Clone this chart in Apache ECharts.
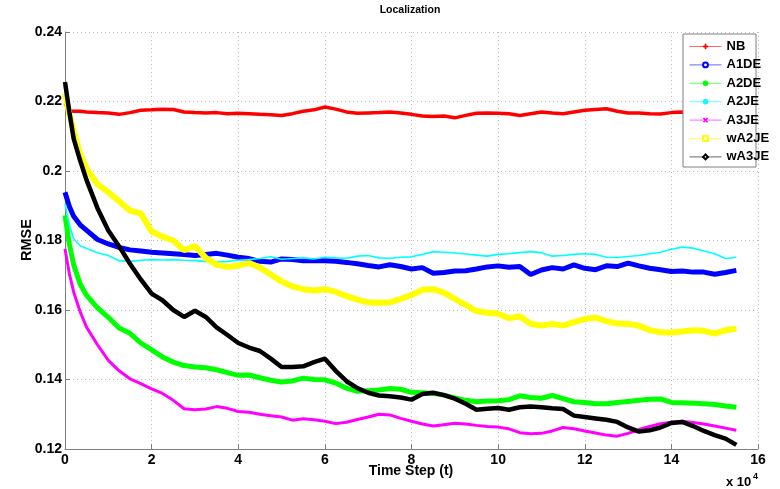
<!DOCTYPE html>
<html><head><meta charset="utf-8">
<script src="https://cdn.jsdelivr.net/npm/echarts@6/dist/echarts.min.js"></script>
<style>html,body{margin:0;padding:0;background:#fff}#c{width:780px;height:489px}</style>
</head><body><div id="c"></div>
<script>
// time steps (x 10^4)
const timeSteps = [0, 0.1, 0.2, 0.35, 0.5, 0.75, 1, 1.25, 1.5, 1.75,
  2, 2.25, 2.5, 2.75, 3, 3.25, 3.5, 3.75, 4, 4.25, 4.5, 4.75, 5, 5.25, 5.5, 5.75,
  6, 6.25, 6.5, 6.75, 7, 7.25, 7.5, 7.75, 8, 8.25, 8.5, 8.75, 9, 9.25, 9.5, 9.75,
  10, 10.25, 10.5, 10.75, 11, 11.25, 11.5, 11.75, 12, 12.25, 12.5, 12.75, 13, 13.25, 13.5, 13.75,
  14, 14.25, 14.5, 14.75, 15, 15.25, 15.5];

const NB = [0.2195, 0.2173, 0.2172, 0.2172, 0.2170, 0.2168, 0.2167, 0.2163, 0.2168, 0.2175,
  0.2176, 0.2178, 0.2177, 0.2170, 0.2168, 0.2167, 0.2168, 0.2165, 0.2166, 0.2165, 0.2163, 0.2162, 0.2160, 0.2165, 0.2172, 0.2176,
  0.2184, 0.2178, 0.2170, 0.2166, 0.2167, 0.2168, 0.2170, 0.2167, 0.2163, 0.2158, 0.2157, 0.2158, 0.2153, 0.2160, 0.2166, 0.2167,
  0.2166, 0.2165, 0.2160, 0.2165, 0.2170, 0.2167, 0.2165, 0.2170, 0.2175, 0.2177, 0.2179, 0.2172, 0.2167, 0.2167, 0.2165, 0.2164,
  0.2168, 0.2170, 0.2168, 0.2167, 0.2166, 0.2167, 0.2168];

const A1DE = [0.1939, 0.1898, 0.1870, 0.1845, 0.1829, 0.1803, 0.1790, 0.1780, 0.1773, 0.1770,
  0.1766, 0.1764, 0.1762, 0.1760, 0.1757, 0.1760, 0.1763, 0.1758, 0.1752, 0.1748, 0.1740, 0.1738, 0.1747, 0.1745, 0.1742, 0.1742,
  0.1742, 0.1740, 0.1737, 0.1733, 0.1728, 0.1724, 0.1730, 0.1725, 0.1718, 0.1722, 0.1706, 0.1708, 0.1712, 0.1713, 0.1718, 0.1724,
  0.1727, 0.1723, 0.1725, 0.1702, 0.1715, 0.1722, 0.1718, 0.1730, 0.1720, 0.1716, 0.1727, 0.1725, 0.1735, 0.1727, 0.1720, 0.1716,
  0.1711, 0.1712, 0.1709, 0.1709, 0.1703, 0.1708, 0.1714];

const A2DE = [0.1872, 0.1790, 0.1730, 0.1675, 0.1642, 0.1606, 0.1579, 0.1548, 0.1533, 0.1505,
  0.1485, 0.1465, 0.1450, 0.1440, 0.1436, 0.1434, 0.1428, 0.1420, 0.1412, 0.1413, 0.1405, 0.1398, 0.1393, 0.1396, 0.1404, 0.1400,
  0.1399, 0.1390, 0.1375, 0.1366, 0.1368, 0.1370, 0.1374, 0.1372, 0.1363, 0.1362, 0.1360, 0.1355, 0.1347, 0.1340, 0.1336, 0.1338,
  0.1339, 0.1342, 0.1353, 0.1348, 0.1346, 0.1354, 0.1345, 0.1336, 0.1334, 0.1330, 0.1330, 0.1334, 0.1337, 0.1340, 0.1343, 0.1344,
  0.1334, 0.1333, 0.1332, 0.1330, 0.1328, 0.1324, 0.1320];

const A2JE = [0.1906, 0.1845, 0.1805, 0.1785, 0.1777, 0.1765, 0.1757, 0.1742, 0.1740, 0.1743,
  0.1745, 0.1744, 0.1745, 0.1743, 0.1742, 0.1740, 0.1738, 0.1740, 0.1743, 0.1745, 0.1748, 0.1753, 0.1746, 0.1748, 0.1750, 0.1747,
  0.1752, 0.1750, 0.1749, 0.1755, 0.1757, 0.1750, 0.1749, 0.1752, 0.1753, 0.1760, 0.1768, 0.1766, 0.1764, 0.1761, 0.1758, 0.1755,
  0.1760, 0.1762, 0.1765, 0.1768, 0.1765, 0.1755, 0.1757, 0.1760, 0.1762, 0.1760, 0.1752, 0.1751, 0.1754, 0.1757, 0.1762, 0.1766,
  0.1775, 0.1781, 0.1778, 0.1770, 0.1762, 0.1748, 0.1752];

const A3JE = [0.1776, 0.1705, 0.1652, 0.1595, 0.1550, 0.1500, 0.1455, 0.1425, 0.1402, 0.1388,
  0.1373, 0.1360, 0.1340, 0.1316, 0.1313, 0.1315, 0.1322, 0.1317, 0.1308, 0.1306, 0.1300, 0.1296, 0.1292, 0.1283, 0.1287, 0.1284,
  0.1280, 0.1273, 0.1277, 0.1285, 0.1292, 0.1300, 0.1298, 0.1288, 0.1280, 0.1272, 0.1266, 0.1270, 0.1274, 0.1272, 0.1268, 0.1265,
  0.1263, 0.1258, 0.1247, 0.1244, 0.1245, 0.1252, 0.1262, 0.1258, 0.1252, 0.1246, 0.1240, 0.1237, 0.1245, 0.1256, 0.1265, 0.1273,
  0.1277, 0.1280, 0.1276, 0.1272, 0.1266, 0.1260, 0.1254];

const wA2JE = [0.2222, 0.2165, 0.2115, 0.2049, 0.2006, 0.1962, 0.1939, 0.1913, 0.1886, 0.1878,
  0.1826, 0.1811, 0.1800, 0.1772, 0.1784, 0.1750, 0.1730, 0.1724, 0.1728, 0.1735, 0.1722, 0.1702, 0.1682, 0.1668, 0.1660, 0.1656,
  0.1660, 0.1652, 0.1640, 0.1630, 0.1622, 0.1621, 0.1622, 0.1632, 0.1643, 0.1658, 0.1660, 0.1650, 0.1632, 0.1615, 0.1597, 0.1592,
  0.1589, 0.1576, 0.1582, 0.1560, 0.1555, 0.1560, 0.1555, 0.1565, 0.1574, 0.1578, 0.1568, 0.1561, 0.1560, 0.1555, 0.1542, 0.1536,
  0.1535, 0.1538, 0.1542, 0.1540, 0.1532, 0.1542, 0.1546];

const wA3JE = [0.2256, 0.2170, 0.2093, 0.2030, 0.1973, 0.1893, 0.1829, 0.1783, 0.1733, 0.1688,
  0.1647, 0.1628, 0.1600, 0.1580, 0.1598, 0.1580, 0.1550, 0.1528, 0.1505, 0.1492, 0.1482, 0.1460, 0.1436, 0.1436, 0.1438, 0.1450,
  0.1460, 0.1425, 0.1395, 0.1375, 0.1362, 0.1354, 0.1352, 0.1348, 0.1342, 0.1358, 0.1362, 0.1355, 0.1345, 0.1330, 0.1313, 0.1316,
  0.1318, 0.1313, 0.1320, 0.1322, 0.1320, 0.1317, 0.1315, 0.1296, 0.1292, 0.1288, 0.1284, 0.1278, 0.1262, 0.1250, 0.1254, 0.1262,
  0.1275, 0.1278, 0.1266, 0.1252, 0.1240, 0.1230, 0.1212];

const seriesNames = ['NB', 'A1DE', 'A2DE', 'A2JE', 'A3JE', 'wA2JE', 'wA3JE'];
const seriesValues = [NB, A1DE, A2DE, A2JE, A3JE, wA2JE, wA3JE];
const xTicks = [0, 2, 4, 6, 8, 10, 12, 14, 16];
const yTicks = [0.12, 0.14, 0.16, 0.18, 0.2, 0.22, 0.24];

const colors = ['#ff0000', '#0000ff', '#00ff00', '#00ffff', '#ff00ff', '#ffff00', '#000000'];
const widths = [3.5, 5, 5, 1.6, 3, 6, 4.5];
const plusPath = 'path://M4.2,0h1.6v10h-1.6z M0,4.2h10v1.6h-10z';
const symbols = [plusPath, 'emptyCircle', 'circle', 'circle', plusPath, 'emptyRect', 'emptyDiamond'];
const rotates = [0, 0, 0, 0, 45, 0, 0];

const FONT = '"Liberation Sans", Arial, Helvetica, sans-serif';
const chart = echarts.init(document.getElementById('c'), null, {renderer: 'canvas'});

const series = seriesNames.map((name, k) => ({
  name: name,
  type: 'line',
  data: timeSteps.map((t, i) => [t, seriesValues[k][i]]),
  showSymbol: false,
  symbol: symbols[k],
  symbolRotate: rotates[k],
  symbolSize: 5,
  color: colors[k],
  lineStyle: {color: colors[k], width: widths[k]},
  itemStyle: {color: colors[k]},
  emphasis: {disabled: true},
  z: 2
}));

const axisGray = '#7f7f7f';
const option = {
  animation: false,
  backgroundColor: '#ffffff',
  grid: {left: 65, right: 22, top: 32, bottom: 40},
  xAxis: {
    type: 'value', min: xTicks[0], max: xTicks[xTicks.length - 1], interval: 2,
    axisLine: {show: true, lineStyle: {color: axisGray, width: 1}},
    axisTick: {show: true, inside: true, length: 5, lineStyle: {color: axisGray}},
    axisLabel: {margin: 4, color: '#000', fontSize: 14, fontWeight: 'bold', fontFamily: FONT},
    splitLine: {show: true, lineStyle: {type: [1, 3], color: '#bdbdbd', width: 1}}
  },
  yAxis: {
    type: 'value', min: yTicks[0], max: yTicks[yTicks.length - 1], interval: 0.02,
    axisLine: {show: true, lineStyle: {color: axisGray, width: 1}},
    axisTick: {show: true, inside: true, length: 5, lineStyle: {color: axisGray}},
    axisLabel: {margin: 3, color: '#000', fontSize: 14, fontWeight: 'bold', fontFamily: FONT,
      formatter: v => String(+v.toFixed(2))},
    splitLine: {show: true, lineStyle: {type: [1, 3], color: '#bdbdbd', width: 1}}
  },
  legend: {
    orient: 'vertical', left: 689, top: 40, padding: 0,
    itemWidth: 32, itemHeight: 6, itemGap: 5.4,
    data: seriesNames.map((n, k) => ({
      name: n,
      lineStyle: {color: colors[k], width: 1, opacity: 0.6},
      itemStyle: {color: colors[k], borderColor: colors[k], borderWidth: 1}
    })),
    textStyle: {fontSize: 13, fontWeight: 'bold', fontFamily: FONT, color: '#000', lineHeight: 12},
    z: 10
  },
  graphic: [
    {type: 'rect', z: 5, silent: true,
      shape: {x: 683, y: 34, width: 73, height: 133},
      style: {fill: '#ffffff', stroke: '#7f7f7f', lineWidth: 1}},
    {type: 'text', x: 410, y: 10, silent: true,
      style: {text: 'Localization', align: 'center', verticalAlign: 'middle', textAlign: 'center', textVerticalAlign: 'middle',
        fontSize: 10.5, fontWeight: 'bold', fontFamily: FONT, fill: '#000'}},
    {type: 'text', x: 411, y: 471, silent: true,
      style: {text: 'Time Step (t)', align: 'center', verticalAlign: 'middle', textAlign: 'center', textVerticalAlign: 'middle',
        fontSize: 14, fontWeight: 'bold', fontFamily: FONT, fill: '#000'}},
    {type: 'text', x: 27, y: 240, rotation: Math.PI / 2, silent: true,
      style: {text: 'RMSE', align: 'center', verticalAlign: 'middle', textAlign: 'center', textVerticalAlign: 'middle',
        fontSize: 14.5, fontWeight: 'bold', fontFamily: FONT, fill: '#000'}},
    {type: 'text', x: 726, y: 482, silent: true,
      style: {text: 'x 10', align: 'left', verticalAlign: 'middle', textAlign: 'left', textVerticalAlign: 'middle',
        fontSize: 13, fontWeight: 'bold', fontFamily: FONT, fill: '#000'}},
    {type: 'text', x: 753, y: 477, silent: true,
      style: {text: '4', align: 'left', verticalAlign: 'middle', textAlign: 'left', textVerticalAlign: 'middle',
        fontSize: 9, fontWeight: 'bold', fontFamily: FONT, fill: '#000'}}
  ],
  series: series
};
chart.setOption(option);
</script>
</body></html>
